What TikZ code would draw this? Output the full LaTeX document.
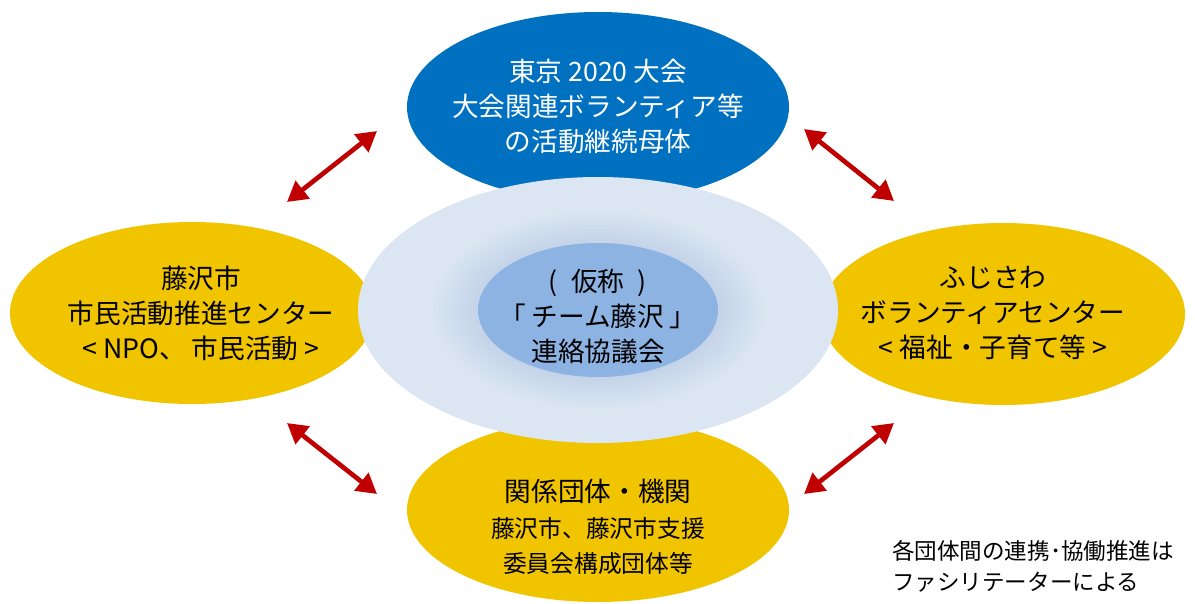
\documentclass[tikz,border=0pt]{standalone}
\usepackage{fontspec}
\setmainfont{Noto Sans CJK JP}
\usetikzlibrary{shapes.geometric,arrows.meta}
\definecolor{topblue}{HTML}{0070C0}
\definecolor{goldfill}{HTML}{F1C400}
\definecolor{paleblue}{HTML}{DCE6F2}
\definecolor{coreblue}{HTML}{8DB3E2}
\definecolor{halo}{HTML}{9DBCE4}
\definecolor{arrowred}{HTML}{C00000}
\tikzset{
  blob/.style={ellipse, inner sep=0pt, draw=none},
  bigtxt/.style={align=center, font=\fontsize{20}{26.25}\selectfont, inner sep=0pt},
  midtxt/.style={align=center, font=\fontsize{17.8}{24}\selectfont, inner sep=0pt},
  linkarrow/.style={arrowred, line width=3.5pt,
     {Triangle[length=15pt,width=16.5pt]}-{Triangle[length=15pt,width=16.5pt]}},
}
\begin{document}
\begin{tikzpicture}[x=0.75pt,y=-0.75pt]
\useasboundingbox (0,0) rectangle (1195,603);
% outer ellipses
\node[blob, fill=topblue, minimum width=286.5pt, minimum height=142.5pt] (top) at (598,107) {};
\node[blob, fill=goldfill, minimum width=273pt, minimum height=136.5pt] (left) at (192,313) {};
\node[blob, fill=goldfill, minimum width=273pt, minimum height=136.5pt] (right) at (1003,314) {};
\node[blob, fill=goldfill, minimum width=286.5pt, minimum height=138pt] (bottom) at (598,510) {};
% central pale ellipse with halo
\node[blob, fill=paleblue, minimum width=360pt, minimum height=199.5pt] (pale) at (598,310) {};
\foreach \k in {0,...,9}{
  \fill[halo, fill opacity=0.04] (598,310) ellipse [x radius={(120+5*\k)*0.75pt}, y radius={(67+3.5*\k)*0.75pt}];
}
\node[blob, fill=coreblue, minimum width=180pt, minimum height=100.5pt] (core) at (598,310) {};
% texts
\node[bigtxt, text=white] (toptxt) at (598,106) {東京 2020 大会\\大会関連ボランティア等\\の活動継続母体};
\node[bigtxt] (coretxt) at (598,316) {(\hspace{0.5em}仮称\hspace{0.5em})\\「\hspace{0.2em}チーム藤沢\hspace{0.2em}」\\連絡協議会};
\node[bigtxt] (lefttxt) at (201,313) {藤沢市\\市民活動推進センター\\< NPO、 市民活動 >};
\node[bigtxt] (righttxt) at (993,313) {ふじさわ\\ボランティアセンター\\< 福祉・子育て等 >};
\node[bigtxt] (bottomtxt) at (598,491) {関係団体・機関};
\node[midtxt] (bottomtxt2) at (598,528) {藤沢市、藤沢市支援};
\node[midtxt] (bottomtxt3) at (598,563) {委員会構成団体等};
\node[anchor=west, align=left, inner sep=0pt, font=\fontsize{16.9}{23.25}\selectfont] (note) at (892,566)
  {各団体間の連携･協働推進は\\ファシリテーターによる};
% arrows
\coordinate (a1s) at (287,202); \coordinate (a1e) at (377,131);
\coordinate (a2s) at (804,129); \coordinate (a2e) at (894,201);
\coordinate (a3s) at (287,423); \coordinate (a3e) at (377,494);
\coordinate (a4s) at (804,494); \coordinate (a4e) at (894,423);
\draw[linkarrow] (a1s) -- (a1e);
\draw[linkarrow] (a2s) -- (a2e);
\draw[linkarrow] (a3s) -- (a3e);
\draw[linkarrow] (a4s) -- (a4e);
\end{tikzpicture}
\end{document}
